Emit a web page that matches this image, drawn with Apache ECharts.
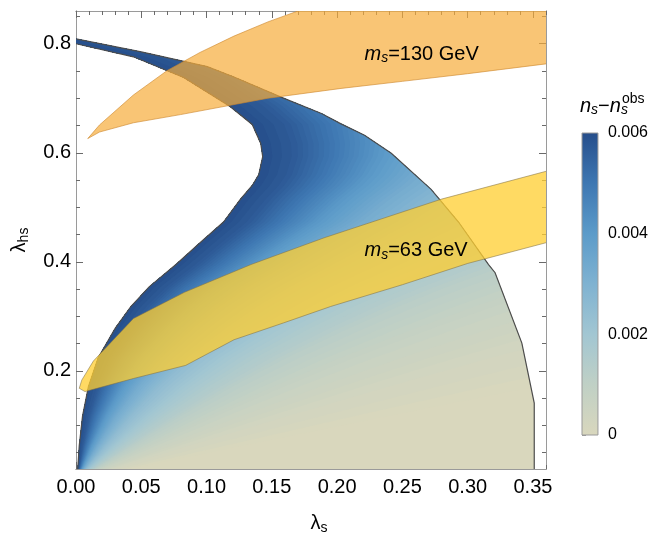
<!DOCTYPE html>
<html>
<head>
<meta charset="utf-8">
<script src="https://cdn.jsdelivr.net/npm/echarts@6/dist/echarts.min.js"></script>
<style>html,body{margin:0;padding:0;background:#fff}#c{width:651px;height:540px}</style>
</head>
<body>
<div id="c"></div>
<script>
// ---------- data ----------
const xMajorTicks = [0, 0.05, 0.10, 0.15, 0.20, 0.25, 0.30, 0.35];
const xMinorTicks = [0.01,0.02,0.03,0.04,0.06,0.07,0.08,0.09,0.11,0.12,0.13,0.14,0.16,0.17,0.18,0.19,
                     0.21,0.22,0.23,0.24,0.26,0.27,0.28,0.29,0.31,0.32,0.33,0.34,0.36];
const yMajorTicks = [0.2, 0.4, 0.6, 0.8];
const yMinorTicks = [0.05,0.10,0.15,0.25,0.30,0.35,0.45,0.50,0.55,0.65,0.70,0.75,0.85];
const cbMajorTicks = [0, 0.002, 0.004, 0.006];
const cbMinorTicks = [0,0.0005,0.001,0.0015,0.002,0.0025,0.003,0.0035,0.004,0.0045,0.005,0.0055,0.006];

// allowed region boundary (lambda_s, lambda_hs)
const regionOuter = [[0.000,0.809],[0.050,0.785],[0.080,0.769],[0.1005,0.758],[0.121,0.739],[0.157,0.702],
  [0.188,0.672],[0.203,0.653],[0.221,0.632],[0.2415,0.599],[0.272,0.533],[0.293,0.473],[0.316,0.395],
  [0.321,0.380],[0.3415,0.251],[0.351,0.141],[0.351,0.020]];
const regionInner = [[0.000,0.800],[0.044,0.776],[0.0825,0.738],[0.118,0.685],[0.135,0.652],[0.1415,0.617],
  [0.143,0.593],[0.140,0.560],[0.135,0.540],[0.126,0.515],[0.113,0.473],[0.095,0.435],[0.077,0.396],
  [0.056,0.354],[0.042,0.318],[0.030,0.278],[0.017,0.224],[0.0095,0.171],[0.005,0.117],[0.0025,0.063],[0.0013,0.020]];

// n_s - n_s^obs profile across the region (relative distance from inner edge -> value)
const shadeS = [0, 0.04, 0.09, 0.15, 0.22, 0.32, 0.45, 0.65, 0.90, 1.30, 2.00];
const shadeV = [0.006, 0.0057, 0.0050, 0.0041, 0.0033, 0.0025, 0.0019, 0.0012, 0.0007, 0.0003, 0];

// m_s = 130 GeV band
const band130Upper = [[0.009,0.626],[0.018,0.651],[0.044,0.706],[0.070,0.751],[0.095,0.784],[0.121,0.814],
  [0.147,0.840],[0.170,0.860],[0.200,0.890],[0.420,0.960]];
const band130Lower = [[0.420,0.782],[0.360,0.763],[0.300,0.745],[0.250,0.731],[0.203,0.718],[0.147,0.700],
  [0.080,0.670],[0.044,0.655],[0.018,0.638]];
// m_s = 63 GeV band
const band63Upper = [[0.0025,0.168],[0.0044,0.183],[0.0133,0.218],[0.018,0.230],[0.044,0.296],[0.083,0.344],
  [0.134,0.395],[0.190,0.444],[0.280,0.515],[0.360,0.566],[0.420,0.602]];
const band63Lower = [[0.420,0.475],[0.360,0.435],[0.300,0.397],[0.250,0.358],[0.195,0.318],[0.159,0.288],
  [0.121,0.257],[0.084,0.210],[0.044,0.186],[0.0069,0.162]];

const bandLabels = ['=130 GeV', '=63 GeV'];
const bandLabelPos = [[0.221, 0.781], [0.221, 0.421]];

// colour scale
const cmapV = [0, 0.001, 0.002, 0.003, 0.004, 0.005, 0.006];
const cmapC = ['#d9d7bd', '#c0d0c5', '#a2c6d2', '#7fb2d1', '#5c9bc9', '#3e77b2', '#264e8b'];

// ---------- helpers ----------
const F = "'Liberation Sans', Arial, Helvetica, sans-serif";
function hexRgb(h){return [parseInt(h.substr(1,2),16),parseInt(h.substr(3,2),16),parseInt(h.substr(5,2),16)];}
function cmap(v){
  if (v <= cmapV[0]) return cmapC[0];
  for (let i=0;i<cmapV.length-1;i++){
    if (v <= cmapV[i+1]){
      const f=(v-cmapV[i])/(cmapV[i+1]-cmapV[i]);
      const a=hexRgb(cmapC[i]), b=hexRgb(cmapC[i+1]);
      return 'rgb('+a.map((c,j)=>Math.round(c+(b[j]-c)*f)).join(',')+')';
    }
  }
  return cmapC[cmapC.length-1];
}
function xAtY(poly, y){ // poly has decreasing y
  if (y >= poly[0][1]) return poly[0][0];
  for (let i=0;i<poly.length-1;i++){
    const a=poly[i], b=poly[i+1];
    if (y <= a[1] && y >= b[1]){
      if (a[1]===b[1]) return Math.max(a[0],b[0]);
      const f=(a[1]-y)/(a[1]-b[1]); return a[0]+f*(b[0]-a[0]);
    }
  }
  return poly[poly.length-1][0];
}
const xInner = y => xAtY(regionInner, y);
const xOuter = y => xAtY(regionOuter, y);
function sAt(v){
  if (v >= shadeV[0]) return shadeS[0];
  for (let i=0;i<shadeV.length-1;i++){
    if (v <= shadeV[i] && v >= shadeV[i+1]){
      const f=(shadeV[i]-v)/(shadeV[i]-shadeV[i+1]); return shadeS[i]+f*(shadeS[i+1]-shadeS[i]);
    }
  }
  return shadeS[shadeS.length-1];
}
function sampleYs(){
  const y0 = regionInner[regionInner.length-1][1], y1 = regionOuter[0][1];
  const ys=[];
  for (let i=0;i<=600;i++) ys.push(y0+(y1-y0)*i/600);
  regionInner.concat(regionOuter).forEach(p=>{ if(p[1]>=y0&&p[1]<=y1) ys.push(p[1]); });
  ys.sort((a,b)=>a-b);
  return ys;
}

function renderShade(params, api){
  const ys = sampleYs();
  const rev = ys.slice().reverse();
  const left = ys.map(y=>[xInner(y), y]);
  const poly = fn => left.concat(rev.map(y=>[fn(y), y])).map(p=>api.coord(p));
  const children = [{type:'polygon', shape:{points: poly(xOuter)}, style:{fill: cmap(0)}}];
  const N = 64;
  for (let k=0;k<N;k++){
    const vLo = 0.006*k/N, vHi = 0.006*(k+1)/N;
    const sHi = sAt(vLo);
    children.push({type:'polygon',
      shape:{points: poly(y=>Math.min(xOuter(y), xInner(y)+sHi*y))},
      style:{fill: cmap((vLo+vHi)/2)}});
  }
  return {type:'group', children};
}
function renderOutline(params, api){
  const pts = a => a.map(p=>api.coord(p));
  const st = {stroke:'#4d4d4d', lineWidth:1.2, fill:null};
  return {type:'group', children:[
    {type:'polyline', shape:{points: pts(regionOuter)}, style: st},
    {type:'polyline', shape:{points: pts(regionInner)}, style: st}
  ]};
}
function bandRenderer(upper, lower, fill, stroke){
  return function(params, api){
    return {type:'polygon', shape:{points: upper.concat(lower).map(p=>api.coord(p))},
      style:{fill, stroke, lineWidth:0.9}};
  };
}
const labelRich = {
  m:{fontFamily:F, fontSize:20, fontStyle:'italic', fill:'#000'},
  s:{fontFamily:F, fontSize:14, fontStyle:'italic', fill:'#000', padding:[9,0,0,0]},
  t:{fontFamily:F, fontSize:20, fill:'#000'}
};

// ---------- axes ----------
function xAx(pos, vals, len, labels){
  return {type:'value', gridIndex:0, position:pos, min:0, max:0.36,
    axisLine:{show:true, onZero:false, lineStyle:{color:'#9a9a9a', width:1}},
    axisTick:{show:true, inside:true, length:len, customValues:vals, lineStyle:{color:'#6a6a6a', width:1}},
    axisLabel:{show:labels, customValues:vals, fontFamily:F, fontSize:20, color:'#000', margin:8,
      formatter:v=>v.toFixed(2)},
    splitLine:{show:false}};
}
function yAx(pos, vals, len, labels){
  return {type:'value', gridIndex:0, position:pos, min:0.02, max:0.86,
    axisLine:{show:true, onZero:false, lineStyle:{color:'#9a9a9a', width:1}},
    axisTick:{show:true, inside:true, length:len, customValues:vals, lineStyle:{color:'#6a6a6a', width:1}},
    axisLabel:{show:labels, customValues:vals, fontFamily:F, fontSize:20, color:'#000', margin:5,
      formatter:v=>v.toFixed(1)},
    splitLine:{show:false}};
}
const xAxes = [xAx('bottom', xMajorTicks, 7, true), xAx('bottom', xMinorTicks, 4, false),
               xAx('top', xMajorTicks, 7, false), xAx('top', xMinorTicks, 4, false)];
xAxes[0].name = '{l|λ}{s|s}';
xAxes[0].nameLocation = 'middle';
xAxes[0].nameGap = 43;
xAxes[0].nameTextStyle = {padding:[0,0,0,16], rich:{l:{fontFamily:F, fontSize:20, color:'#000'},
  s:{fontFamily:F, fontSize:14, color:'#000', padding:[9,0,0,0]}}};
const yAxes = [yAx('left', yMajorTicks, 7, true), yAx('left', yMinorTicks, 4, false),
               yAx('right', yMajorTicks, 7, false), yAx('right', yMinorTicks, 4, false)];
yAxes[0].name = '{l|λ}{s|hs}';
yAxes[0].nameLocation = 'middle';
yAxes[0].nameRotate = 90;
yAxes[0].nameGap = 45;
yAxes[0].nameTextStyle = {rich:{l:{fontFamily:F, fontSize:20, color:'#000'},
  s:{fontFamily:F, fontSize:14, color:'#000', padding:[9,0,0,0]}}};
// colour bar axes
xAxes.push({type:'value', gridIndex:1, min:0, max:1, show:false});
yAxes.push({type:'value', gridIndex:1, position:'right', min:0, max:0.006,
  axisLine:{show:false},
  axisTick:{show:true, inside:false, length:4, customValues:cbMinorTicks, lineStyle:{color:'#9a9a9a'}},
  axisLabel:{show:true, customValues:cbMajorTicks, fontFamily:F, fontSize:16, color:'#000', margin:10,
    formatter:v=> v===0 ? '0' : v.toFixed(3)},
  splitLine:{show:false}});

const chart = echarts.init(document.getElementById('c'), null, {renderer:'canvas'});
chart.setOption({
  animation:false,
  backgroundColor:'#fff',
  grid:[{left:76, top:11, width:470, height:470, containLabel:false},
        {left:582, top:133, width:21, height:302, containLabel:false}],
  xAxis: xAxes,
  yAxis: yAxes,
  graphic:[
    {type:'text', x:580, y:106, z:10, style:{text:'{n|n}{s|s}{t|−}{n|n}{s|s}', verticalAlign:'middle', align:'left',
      rich:{n:{fontFamily:F, fontSize:20, fontStyle:'italic', fill:'#000'},
            s:{fontFamily:F, fontSize:14, fontStyle:'italic', fill:'#000', padding:[9,0,0,0]},
            t:{fontFamily:F, fontSize:20, fill:'#000'}}}},
    {type:'text', x:622, y:99, z:10, style:{text:'obs', verticalAlign:'middle', align:'left',
      fontFamily:F, fontSize:14, fill:'#000'}}
  ],
  series:[
    {type:'custom', name:'shade', xAxisIndex:0, yAxisIndex:0, clip:true, silent:true, z:1,
      data:[[0.1,0.4]], renderItem: renderShade},
    {type:'custom', name:'outline', xAxisIndex:0, yAxisIndex:0, clip:true, silent:true, z:2,
      data:[[0.1,0.4]], renderItem: renderOutline},
    {type:'custom', name:'130 GeV', xAxisIndex:0, yAxisIndex:0, clip:true, silent:true, z:3,
      data:[[0.2,0.75]], renderItem: bandRenderer(band130Upper, band130Lower, 'rgba(247,172,58,0.70)', 'rgba(205,135,45,0.7)')},
    {type:'custom', name:'63 GeV', xAxisIndex:0, yAxisIndex:0, clip:true, silent:true, z:3,
      data:[[0.2,0.4]], renderItem: bandRenderer(band63Upper, band63Lower, 'rgba(255,206,50,0.76)', 'rgba(125,110,70,0.6)')},
    {type:'custom', name:'labels', xAxisIndex:0, yAxisIndex:0, clip:false, silent:true, z:5,
      data: bandLabelPos.map(p=>[p[0],p[1]]),
      renderItem:(params, api)=>{
        const p = api.coord([api.value(0), api.value(1)]);
        return {type:'text', x:p[0], y:p[1], style:{text:'{m|m}{s|s}{t|'+bandLabels[params.dataIndex]+'}',
          rich:labelRich, align:'left', verticalAlign:'middle'}};
      }},
    {type:'custom', name:'colorbar', xAxisIndex:4, yAxisIndex:4, silent:true, z:2,
      data:[[0.5,0.003]],
      renderItem:(params, api)=>{
        const p0 = api.coord([0, 0.006]), p1 = api.coord([1, 0]);
        const stops = cmapV.map((v,i)=>({offset: 1 - v/0.006, color: cmapC[i]})).reverse();
        return {type:'rect', shape:{x:p0[0], y:p0[1], width:p1[0]-p0[0], height:p1[1]-p0[1]},
          style:{fill:{type:'linear', x:0, y:0, x2:0, y2:1, colorStops:stops}, stroke:'#9a9a9a', lineWidth:1}};
      }}
  ]
});
</script>
</body>
</html>
